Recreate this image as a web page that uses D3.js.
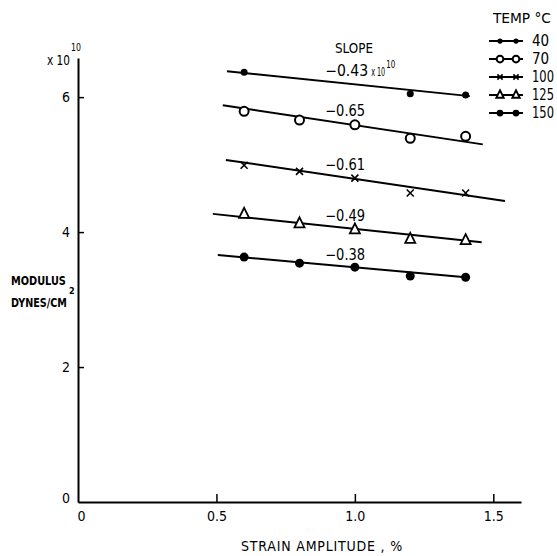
<!DOCTYPE html>
<html>
<head>
<meta charset="utf-8">
<script src="https://cdn.jsdelivr.net/npm/d3@7/dist/d3.min.js"></script>
<style>
  html, body { margin: 0; padding: 0; background: #fff; }
  svg { display: block; }
  text { font-family: "DejaVu Sans Condensed", "Liberation Sans Narrow", "DejaVu Sans", sans-serif; fill: #000; }
</style>
</head>
<body>
<svg id="chart" width="557" height="556"></svg>
<script>
// ---- data ----
const strain = [0.6, 0.8, 1.0, 1.2, 1.4];
const temps = [40, 70, 100, 125, 150];
const slopeLabels = ["\u22120.43", "\u22120.65", "\u22120.61", "\u22120.49", "\u22120.38"];
const mod40  = [6.37, null, null, 6.05, 6.03];
const mod70  = [5.79, 5.66, 5.59, 5.39, 5.42];
const mod100 = [4.99, 4.90, 4.80, 4.58, 4.58];
const mod125 = [4.27, 4.13, 4.04, 3.90, 3.88];
const mod150 = [3.63, 3.54, 3.48, 3.35, 3.33];
// fitted lines (start / end in data units)
const fitX0 = [0.538, 0.523, 0.534, 0.487, 0.505];
const fitY0 = [6.385, 5.88, 5.07, 4.27, 3.66];
const fitX1 = [1.415, 1.462, 1.542, 1.458, 1.40];
const fitY1 = [6.015, 5.30, 4.46, 3.85, 3.33];
const xTicks = [0, 0.5, 1.0, 1.5];
const xTickLabels = ["0", "0.5", "1.0", "1.5"];
const yTicks = [0, 2, 4, 6];
const yTickLabels = ["0", "2", "4", "6"];
const markerTypes = ["dot", "open", "star", "tri", "fill"];

const series = [mod40, mod70, mod100, mod125, mod150];

const svg = d3.select("#chart");
const x = d3.scaleLinear().domain([0, 1.6]).range([78, 521]);
const y = d3.scaleLinear().domain([0, 6.58]).range([502, 58]);

// text squeezed horizontally to a target width (the original uses narrow lettering)
function narrowText(parent, tx, ty, str, size, width, weight) {
  const t = parent.append("text").attr("x", 0).attr("y", 0)
    .style("font-size", size + "px").style("font-weight", weight || "normal").text(str);
  const nat = t.node().getComputedTextLength();
  const k = width ? width / nat : 1;
  t.attr("transform", `translate(${tx},${ty}) scale(${k},1)`);
  return t;
}

// axes
const xAxis = d3.axisBottom(x).tickValues(xTicks)
  .tickFormat((d, i) => xTickLabels[i]).tickSizeInner(-8).tickSizeOuter(0).tickPadding(9);
const gx = svg.append("g").attr("transform", "translate(0,502)").call(xAxis);
gx.select(".domain").attr("stroke-width", 2);
gx.selectAll(".tick line").attr("stroke-width", 1.5);
gx.selectAll(".tick text").style("font-size", "14px").attr("font-family", null);
gx.selectAll(".tick").filter(d => d === 0).select("line").remove();
gx.selectAll(".tick").filter(d => d === 0).select("text").attr("dx", "3");

const yAxis = d3.axisLeft(y).tickValues(yTicks)
  .tickFormat((d, i) => yTickLabels[i]).tickSizeInner(-6).tickSizeOuter(0).tickPadding(8);
const gy = svg.append("g").attr("transform", "translate(78,0)").call(yAxis);
gy.select(".domain").attr("stroke-width", 2);
gy.selectAll(".tick line").attr("stroke-width", 1.5);
gy.selectAll(".tick text").style("font-size", "14px").attr("font-family", null);
gy.selectAll(".tick").filter(d => d === 0).select("line").remove();
gy.selectAll(".tick").filter(d => d === 0).select("text").attr("dy", "0.05em");

svg.selectAll(".domain").attr("stroke", "#000");

// "x 10^10"
narrowText(svg, 47, 65, "x 10", 14, 23);
narrowText(svg, 71, 51, "10", 11, 10);

// y title
narrowText(svg, 11, 285, "MODULUS", 12, 55, "bold");
narrowText(svg, 11, 307, "DYNES/CM", 12, 56, "bold");
narrowText(svg, 69, 294, "2", 9, null, "bold");

// x title
svg.append("text").attr("x", 322).attr("y", 551).attr("text-anchor", "middle")
  .style("font-size", "14px").style("letter-spacing", "0.8px").text("STRAIN  AMPLITUDE , %");

// marker drawing
function marker(g, type, cx, cy, k) {
  k = k || 1;
  if (type === "dot") {
    g.append("circle").attr("cx", cx).attr("cy", cy).attr("r", 3.5 * k).attr("fill", "#000");
  } else if (type === "open") {
    g.append("circle").attr("cx", cx).attr("cy", cy).attr("r", 4.5 * k)
      .attr("fill", "#fff").attr("stroke", "#000").attr("stroke-width", 2);
  } else if (type === "star") {
    const s = 3.5 * k;
    g.append("path").attr("d", `M${cx - s},${cy - s}L${cx + s},${cy + s}M${cx - s},${cy + s}L${cx + s},${cy - s}`)
      .attr("stroke", "#000").attr("stroke-width", 1.6).attr("fill", "none");
  } else if (type === "tri") {
    const s = 5 * k;
    g.append("path").attr("d", `M${cx},${cy - s - 1}L${cx + s},${cy + s - 1}L${cx - s},${cy + s - 1}Z`)
      .attr("fill", "#fff").attr("stroke", "#000").attr("stroke-width", 1.8);
  } else if (type === "fill") {
    g.append("circle").attr("cx", cx).attr("cy", cy).attr("r", 4.5 * k).attr("fill", "#000");
  }
}

// fitted lines
const plot = svg.append("g");
temps.forEach((t, i) => {
  plot.append("line")
    .attr("x1", x(fitX0[i])).attr("y1", y(fitY0[i]))
    .attr("x2", x(fitX1[i])).attr("y2", y(fitY1[i]))
    .attr("stroke", "#000").attr("stroke-width", 2);
});

// points
series.forEach((vals, i) => {
  const g = plot.append("g");
  vals.forEach((v, j) => {
    if (v == null) return;
    marker(g, markerTypes[i], x(strain[j]), y(v));
  });
});

// slope labels
narrowText(svg, 335, 53, "SLOPE", 14, 38);
temps.forEach((t, i) => {
  const xv = 0.9;
  const yv = fitY0[i] + (fitY1[i] - fitY0[i]) * (xv - fitX0[i]) / (fitX1[i] - fitX0[i]);
  const lx = x(xv) - 2, ly = y(yv) - 5;
  narrowText(svg, lx, ly, slopeLabels[i], 15, i === 0 ? 43 : 40);
  if (i === 0) {
    narrowText(svg, lx + 46, ly, "x 10", 13, 14);
    narrowText(svg, lx + 61, ly - 8, "10", 10, 9);
  }
});

// legend
const lg = svg.append("g");
narrowText(lg, 493, 23, "TEMP \u00B0C", 14, 58);
temps.forEach((t, i) => {
  const cy = 41 + i * 18;
  lg.append("line").attr("x1", 489).attr("x2", 523).attr("y1", cy).attr("y2", cy)
    .attr("stroke", "#000").attr("stroke-width", 2);
  marker(lg, markerTypes[i], 500, cy, 0.75);
  marker(lg, markerTypes[i], 516, cy, 0.75);
  narrowText(lg, 532, cy + 5, String(t), 15, String(t).length === 3 ? 22 : null);
});
</script>
</body>
</html>
